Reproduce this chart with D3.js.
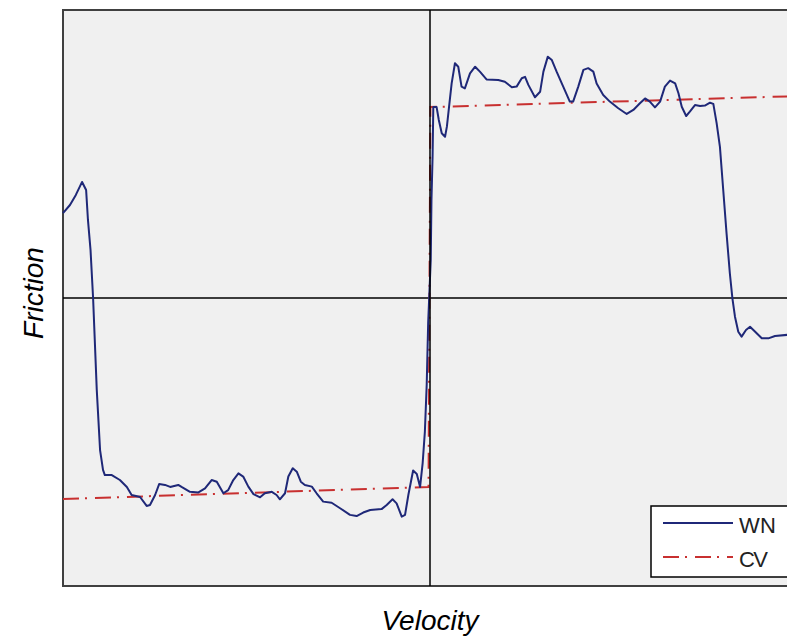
<!DOCTYPE html>
<html>
<head>
<meta charset="utf-8">
<script src="https://cdn.jsdelivr.net/npm/d3@7"></script>
<style>
  body { margin: 0; background: #fff; }
  svg { display: block; font-family: "Liberation Sans", Arial, sans-serif; }
</style>
</head>
<body>
<svg id="chart" width="787" height="638"></svg>
<script>
// measured WN friction curve (velocity, friction), both normalised to [-1, 1]
var wnVelocity = [-1.000, -0.981, -0.965, -0.948, -0.937, -0.932, -0.925, -0.918, -0.908, -0.899,
  -0.891, -0.886, -0.867, -0.845, -0.826, -0.813, -0.790, -0.772, -0.763, -0.749,
  -0.738, -0.722, -0.708, -0.686, -0.677, -0.654, -0.631, -0.613, -0.595, -0.581,
  -0.563, -0.550, -0.536, -0.522, -0.509, -0.495, -0.481, -0.463, -0.450, -0.431,
  -0.418, -0.409, -0.395, -0.386, -0.374, -0.363, -0.352, -0.341, -0.322, -0.309,
  -0.291, -0.268, -0.245, -0.218, -0.200, -0.182, -0.163, -0.132, -0.118, -0.102,
  -0.091, -0.077, -0.068, -0.059, -0.046, -0.036, -0.027, -0.020, -0.014, -0.009,
  -0.005, 0.002, 0.004, 0.007, 0.009, 0.018, 0.024, 0.032, 0.041, 0.046,
  0.054, 0.059, 0.068, 0.077, 0.086, 0.095, 0.109, 0.123, 0.136, 0.154,
  0.186, 0.204, 0.223, 0.236, 0.250, 0.259, 0.268, 0.286, 0.300, 0.309,
  0.321, 0.332, 0.345, 0.363, 0.381, 0.390, 0.404, 0.418, 0.431, 0.445,
  0.454, 0.472, 0.490, 0.513, 0.536, 0.554, 0.572, 0.586, 0.599, 0.613,
  0.627, 0.640, 0.654, 0.668, 0.677, 0.686, 0.698, 0.708, 0.722, 0.736,
  0.749, 0.763, 0.772, 0.781, 0.790, 0.799, 0.808, 0.817, 0.824, 0.831,
  0.840, 0.849, 0.861, 0.872, 0.886, 0.904, 0.922, 0.940, 0.973];
var wnFriction = [0.295, 0.323, 0.358, 0.403, 0.375, 0.271, 0.167, 0.000, -0.319, -0.528,
  -0.597, -0.615, -0.615, -0.632, -0.656, -0.684, -0.691, -0.722, -0.719, -0.684,
  -0.646, -0.649, -0.656, -0.649, -0.656, -0.673, -0.675, -0.661, -0.632, -0.638,
  -0.678, -0.667, -0.632, -0.609, -0.620, -0.655, -0.681, -0.692, -0.678, -0.673,
  -0.684, -0.699, -0.678, -0.620, -0.591, -0.603, -0.638, -0.649, -0.655, -0.678,
  -0.707, -0.711, -0.730, -0.753, -0.757, -0.745, -0.736, -0.733, -0.719, -0.699,
  -0.713, -0.759, -0.753, -0.684, -0.599, -0.611, -0.656, -0.573, -0.465, -0.302,
  -0.087, 0.132, 0.340, 0.490, 0.663, 0.663, 0.618, 0.572, 0.560, 0.595,
  0.688, 0.745, 0.815, 0.803, 0.734, 0.728, 0.780, 0.803, 0.786, 0.759,
  0.757, 0.751, 0.732, 0.734, 0.763, 0.768, 0.740, 0.697, 0.716, 0.786,
  0.838, 0.826, 0.786, 0.734, 0.682, 0.682, 0.734, 0.792, 0.798, 0.786,
  0.745, 0.705, 0.682, 0.659, 0.639, 0.653, 0.676, 0.693, 0.682, 0.662,
  0.682, 0.734, 0.755, 0.745, 0.711, 0.664, 0.632, 0.647, 0.670, 0.667,
  0.668, 0.678, 0.674, 0.607, 0.525, 0.375, 0.225, 0.086, -0.001, -0.065,
  -0.117, -0.134, -0.111, -0.100, -0.117, -0.140, -0.140, -0.132, -0.128];

// CV model (Coulomb + viscous)
var cvVelocity = [-1.000, -0.004, 0.001, 1.000];
var cvFriction = [-0.698, -0.656, 0.663, 0.701];

var seriesNames = ["WN", "CV"];
var axisTitles = ["Velocity", "Friction"];

var svg = d3.select("#chart");

var x = d3.scaleLinear().domain([-1, 1]).range([63, 797]);
var y = d3.scaleLinear().domain([-1, 1]).range([586, 10]);

var blue = "#1f2878", red = "#c83030";

// plot area
svg.append("rect")
  .attr("x", x(-1)).attr("y", y(1))
  .attr("width", x(1) - x(-1)).attr("height", y(-1) - y(1))
  .attr("fill", "#f0f0f0")
  .attr("stroke", "#404040")
  .attr("stroke-width", 2);

// zero line for friction
svg.append("line")
  .attr("x1", x(-1)).attr("x2", x(1))
  .attr("y1", y(0)).attr("y2", y(0))
  .attr("stroke", "#000").attr("stroke-width", 1.5);

var wn = d3.zip(wnVelocity, wnFriction);
var cv = d3.zip(cvVelocity, cvFriction);

var line = d3.line()
  .x(function (d) { return x(d[0]); })
  .y(function (d) { return y(d[1]); });

svg.append("path")
  .datum(cv)
  .attr("d", line)
  .attr("fill", "none")
  .attr("stroke", red)
  .attr("stroke-width", 2)
  .attr("stroke-dasharray", "16,6,2,8");

svg.append("path")
  .datum(wn)
  .attr("d", line)
  .attr("fill", "none")
  .attr("stroke", blue)
  .attr("stroke-width", 2)
  .attr("stroke-linejoin", "round");

// zero line for velocity (drawn over the jump)
svg.append("line")
  .attr("x1", x(0)).attr("x2", x(0))
  .attr("y1", y(1)).attr("y2", y(-1))
  .attr("stroke", "#000").attr("stroke-width", 1.5);

// axis titles
svg.append("text")
  .attr("x", x(0)).attr("y", 630)
  .attr("text-anchor", "middle")
  .attr("font-size", 28).attr("font-style", "italic")
  .text(axisTitles[0]);

svg.append("text")
  .attr("transform", "translate(43," + 293 + ") rotate(-90)")
  .attr("text-anchor", "middle")
  .attr("font-size", 28).attr("font-style", "italic")
  .text(axisTitles[1]);

// legend
var legend = svg.append("g").attr("transform", "translate(651,506)");
legend.append("rect")
  .attr("width", 160).attr("height", 71)
  .attr("fill", "#fff").attr("stroke", "#000").attr("stroke-width", 1.5);

var items = legend.selectAll("g.item")
  .data(seriesNames)
  .enter().append("g")
  .attr("class", "item")
  .attr("transform", function (d, i) { return "translate(0," + (17 + i * 34) + ")"; });

items.append("line")
  .attr("x1", 12).attr("x2", 82)
  .attr("stroke", function (d, i) { return i === 0 ? blue : red; })
  .attr("stroke-width", 2)
  .attr("stroke-dasharray", function (d, i) { return i === 0 ? null : "16,6,2,8"; });

items.append("text")
  .attr("x", 88).attr("y", 10)
  .attr("font-size", 22)
  .attr("fill", "#222")
  .attr("textLength", function (d) { return d === "WN" ? 37 : 29; })
  .text(function (d) { return d; });
</script>
</body>
</html>
